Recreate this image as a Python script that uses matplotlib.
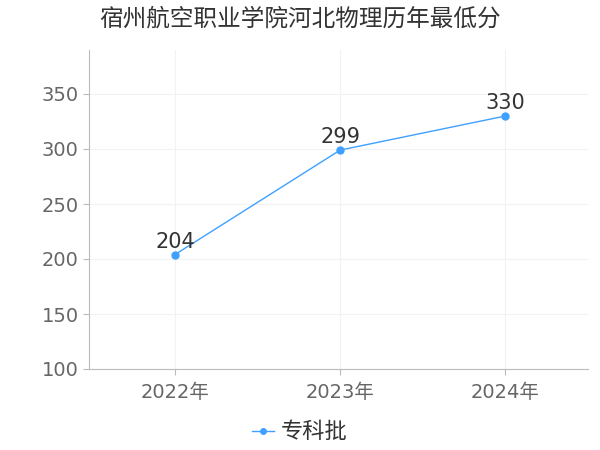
import matplotlib
matplotlib.use("Agg")
import matplotlib.pyplot as plt

plt.rcParams['font.family'] = ['DejaVu Sans', 'Noto Sans CJK SC']

title = "宿州航空职业学院河北物理历年最低分"
years = ["2022年", "2023年", "2024年"]
scores = [204, 299, 330]
series_name = "专科批"
yticks = [100, 150, 200, 250, 300, 350]

line_color = "#3fa0ff"
text_color = "#666666"

fig = plt.figure(figsize=(6, 4.5), dpi=100)
ax = fig.add_axes([89 / 600, 1 - 369 / 450, 499 / 600, 319 / 450])

x = list(range(len(years)))
ax.plot(x, scores, color=line_color, lw=1, marker="o", ms=5, label=series_name)
for xi, v in zip(x, scores):
    ax.annotate(str(v), (xi, v), xytext=(0, 2), textcoords="offset points",
                ha="center", va="bottom", fontsize=15, color="#333333")

ax.set_xlim(-0.52, 2.5)
ax.set_ylim(100, 390)
ax.set_yticks(yticks)
ax.set_xticks(x)
ax.set_xticklabels(years)
ax.tick_params(axis="both", labelsize=14, length=4, colors="#bbbbbb", labelcolor=text_color)
ax.tick_params(axis="x", pad=6)

ax.grid(True, color="#f2f2f2", lw=0.8)
for s in ["top", "right"]:
    ax.spines[s].set_visible(False)
ax.spines["left"].set_color("#bbbbbb")
ax.spines["bottom"].set_color("#bbbbbb")

fig.text(0.5, 1 - 19 / 450, title, ha="center", va="center", fontsize=17,
         color="#333333", family=['Noto Sans CJK SC', 'DejaVu Sans'])

leg = fig.legend(loc="center", bbox_to_anchor=(0.5, 1 - 432 / 450), frameon=False,
                 prop={"family": "Noto Sans CJK SC", "size": 16},
                 handlelength=1.0, handletextpad=0.3, markerscale=0.8)
for t in leg.get_texts():
    t.set_color("#333333")

fig.savefig("out.png", dpi=100)
